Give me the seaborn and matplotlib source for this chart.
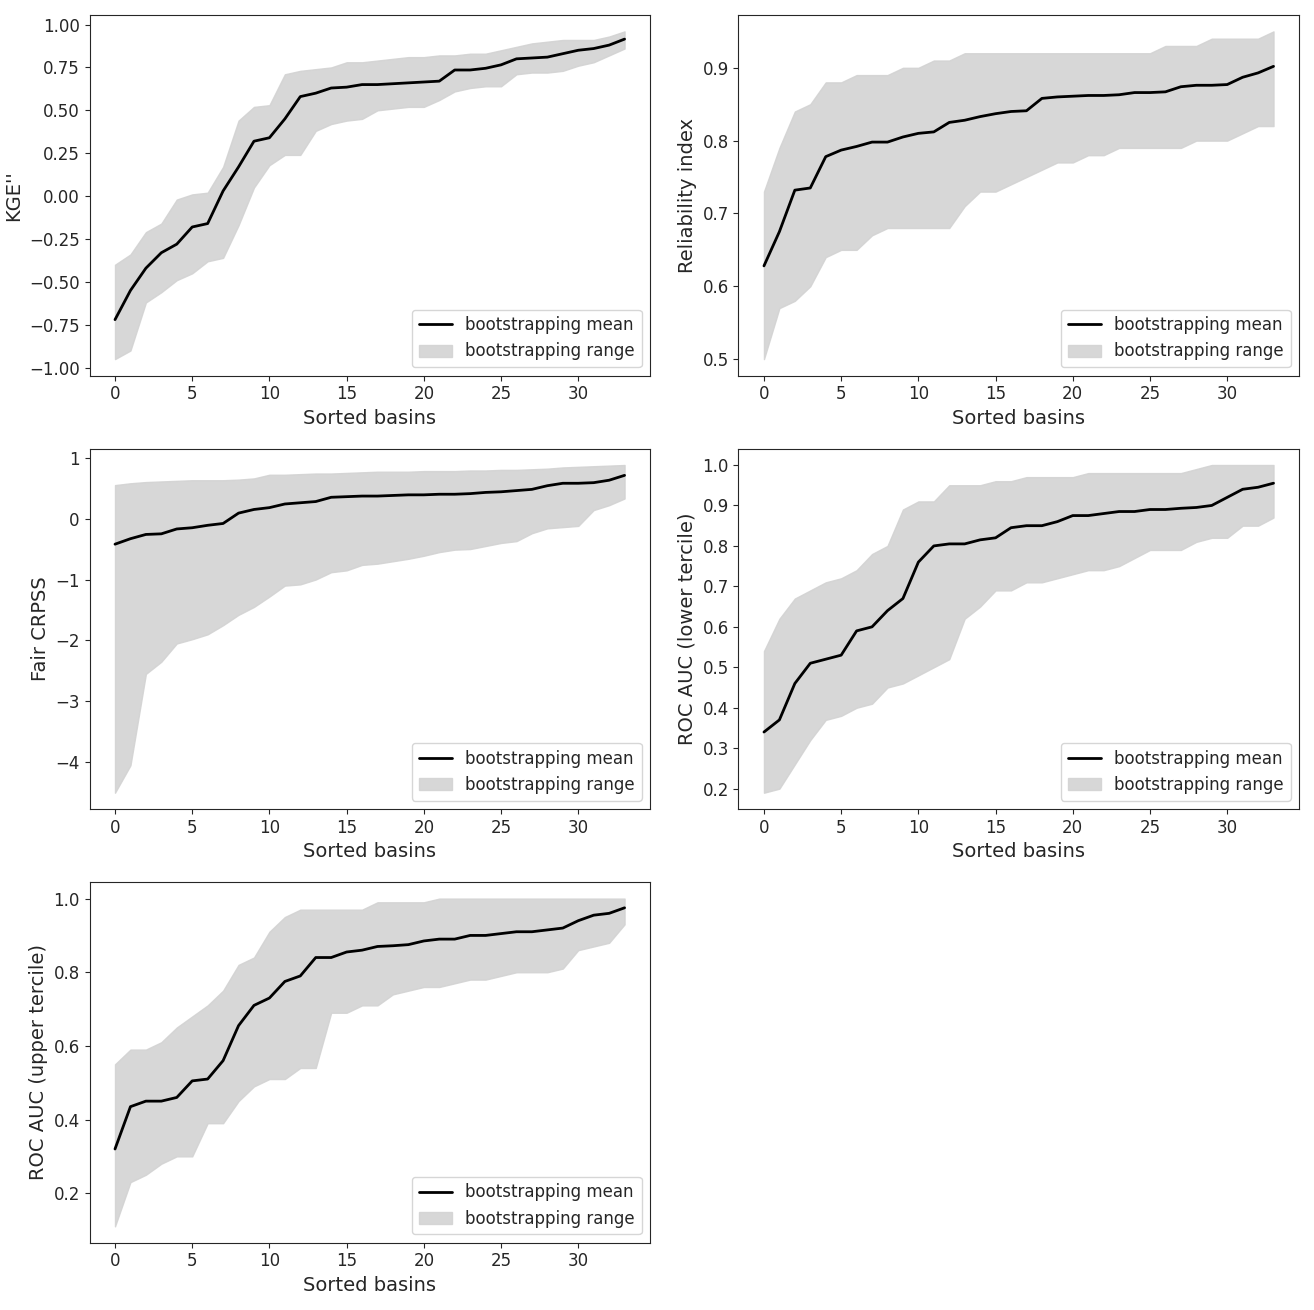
import numpy as np
import pandas as pd
import matplotlib
matplotlib.use("Agg")
import matplotlib.pyplot as plt
import seaborn as sns

basins = np.arange(34)

kge_mean = [-0.72, -0.55, -0.42, -0.33, -0.28, -0.18, -0.16, 0.03, 0.17, 0.32, 0.34, 0.45, 0.58, 0.60, 0.63, 0.635, 0.65,
            0.65, 0.655, 0.66, 0.665, 0.67, 0.735, 0.735, 0.745, 0.765, 0.80, 0.805, 0.81, 0.83, 0.85, 0.86, 0.88, 0.915]
kge_hi = [-0.40, -0.34, -0.21, -0.16, -0.02, 0.01, 0.02, 0.17, 0.44, 0.52, 0.53, 0.71, 0.73, 0.74, 0.75, 0.78, 0.78,
          0.79, 0.80, 0.81, 0.81, 0.82, 0.82, 0.83, 0.83, 0.85, 0.87, 0.89, 0.90, 0.91, 0.91, 0.91, 0.93, 0.96]
kge_lo = [-0.95, -0.90, -0.62, -0.56, -0.49, -0.45, -0.38, -0.36, -0.17, 0.05, 0.18, 0.24, 0.24, 0.38, 0.42, 0.44, 0.45,
          0.50, 0.51, 0.52, 0.52, 0.56, 0.61, 0.63, 0.64, 0.64, 0.71, 0.72, 0.72, 0.73, 0.76, 0.78, 0.82, 0.86]

rel_mean = [0.628, 0.675, 0.732, 0.735, 0.778, 0.787, 0.792, 0.798, 0.798, 0.805, 0.81, 0.812, 0.825, 0.828, 0.833, 0.837,
            0.84, 0.841, 0.858, 0.86, 0.861, 0.862, 0.862, 0.863, 0.866, 0.866, 0.867, 0.874, 0.876, 0.876, 0.877, 0.887,
            0.893, 0.902]
rel_hi = [0.73, 0.79, 0.84, 0.85, 0.88, 0.88, 0.89, 0.89, 0.89, 0.90, 0.90, 0.91, 0.91, 0.92, 0.92, 0.92, 0.92, 0.92,
          0.92, 0.92, 0.92, 0.92, 0.92, 0.92, 0.92, 0.92, 0.93, 0.93, 0.93, 0.94, 0.94, 0.94, 0.94, 0.95]
rel_lo = [0.50, 0.57, 0.58, 0.60, 0.64, 0.65, 0.65, 0.67, 0.68, 0.68, 0.68, 0.68, 0.68, 0.71, 0.73, 0.73, 0.74, 0.75,
          0.76, 0.77, 0.77, 0.78, 0.78, 0.79, 0.79, 0.79, 0.79, 0.79, 0.80, 0.80, 0.80, 0.81, 0.82, 0.82]

crpss_mean = [-0.42, -0.33, -0.26, -0.25, -0.17, -0.15, -0.11, -0.08, 0.09, 0.15, 0.18, 0.24, 0.26, 0.28, 0.35, 0.36,
              0.37, 0.37, 0.38, 0.39, 0.39, 0.40, 0.40, 0.41, 0.43, 0.44, 0.46, 0.48, 0.54, 0.58, 0.58, 0.59, 0.63, 0.71]
crpss_hi = [0.55, 0.58, 0.60, 0.61, 0.62, 0.63, 0.63, 0.63, 0.64, 0.66, 0.72, 0.72, 0.73, 0.74, 0.74, 0.75, 0.76, 0.77,
            0.77, 0.77, 0.78, 0.78, 0.78, 0.79, 0.79, 0.80, 0.80, 0.81, 0.82, 0.84, 0.85, 0.86, 0.87, 0.88]
crpss_lo = [-4.5, -4.05, -2.55, -2.35, -2.05, -1.98, -1.9, -1.75, -1.58, -1.45, -1.28, -1.1, -1.08, -1.0, -0.88, -0.85,
            -0.76, -0.74, -0.70, -0.66, -0.61, -0.55, -0.51, -0.50, -0.45, -0.40, -0.37, -0.24, -0.16, -0.14, -0.12,
            0.14, 0.22, 0.33]

low_mean = [0.34, 0.37, 0.46, 0.51, 0.52, 0.53, 0.59, 0.60, 0.64, 0.67, 0.76, 0.80, 0.805, 0.805, 0.815, 0.82, 0.845,
            0.85, 0.85, 0.86, 0.875, 0.875, 0.88, 0.885, 0.885, 0.89, 0.89, 0.893, 0.895, 0.90, 0.92, 0.94, 0.945, 0.955]
low_hi = [0.54, 0.62, 0.67, 0.69, 0.71, 0.72, 0.74, 0.78, 0.80, 0.89, 0.91, 0.91, 0.95, 0.95, 0.95, 0.96, 0.96, 0.97,
          0.97, 0.97, 0.97, 0.98, 0.98, 0.98, 0.98, 0.98, 0.98, 0.98, 0.99, 1.0, 1.0, 1.0, 1.0, 1.0]
low_lo = [0.19, 0.20, 0.26, 0.32, 0.37, 0.38, 0.40, 0.41, 0.45, 0.46, 0.48, 0.50, 0.52, 0.62, 0.65, 0.69, 0.69, 0.71,
          0.71, 0.72, 0.73, 0.74, 0.74, 0.75, 0.77, 0.79, 0.79, 0.79, 0.81, 0.82, 0.82, 0.85, 0.85, 0.87]

up_mean = [0.32, 0.435, 0.45, 0.45, 0.46, 0.505, 0.51, 0.56, 0.655, 0.71, 0.73, 0.775, 0.79, 0.84, 0.84, 0.855, 0.86,
           0.87, 0.872, 0.875, 0.885, 0.89, 0.89, 0.90, 0.90, 0.905, 0.91, 0.91, 0.915, 0.92, 0.94, 0.955, 0.96, 0.975]
up_hi = [0.55, 0.59, 0.59, 0.61, 0.65, 0.68, 0.71, 0.75, 0.82, 0.84, 0.91, 0.95, 0.97, 0.97, 0.97, 0.97, 0.97, 0.99,
         0.99, 0.99, 0.99, 1.0, 1.0, 1.0, 1.0, 1.0, 1.0, 1.0, 1.0, 1.0, 1.0, 1.0, 1.0, 1.0]
up_lo = [0.11, 0.23, 0.25, 0.28, 0.30, 0.30, 0.39, 0.39, 0.45, 0.49, 0.51, 0.51, 0.54, 0.54, 0.69, 0.69, 0.71, 0.71,
         0.74, 0.75, 0.76, 0.76, 0.77, 0.78, 0.78, 0.79, 0.80, 0.80, 0.80, 0.81, 0.86, 0.87, 0.88, 0.93]

panels = [
    ("KGE''", kge_mean, kge_lo, kge_hi),
    ("Reliability index", rel_mean, rel_lo, rel_hi),
    ("Fair CRPSS", crpss_mean, crpss_lo, crpss_hi),
    ("ROC AUC (lower tercile)", low_mean, low_lo, low_hi),
    ("ROC AUC (upper tercile)", up_mean, up_lo, up_hi),
]

sns.set_style("ticks")
plt.rcParams['font.family'] = ['DejaVu Sans']
fig, axes = plt.subplots(3, 2, figsize=(13.14, 13.10), dpi=100)
axes = axes.ravel()
for ax, (label, mean, lo, hi) in zip(axes, panels):
    df = pd.DataFrame({"basin": basins, "mean": mean})
    ax.fill_between(basins, lo, hi, color="lightgray", alpha=0.9, label="bootstrapping range")
    sns.lineplot(data=df, x="basin", y="mean", ax=ax, color="black", lw=2, label="bootstrapping mean")
    ax.set_xlabel("Sorted basins", fontsize=14)
    ax.set_ylabel(label, fontsize=14)
    ax.tick_params(labelsize=12)
    h, l = ax.get_legend_handles_labels()
    ax.legend(h[::-1], l[::-1], loc="lower right", fontsize=12)
axes[5].axis("off")
fig.tight_layout(h_pad=1.5, w_pad=2)
fig.savefig("out.png")
